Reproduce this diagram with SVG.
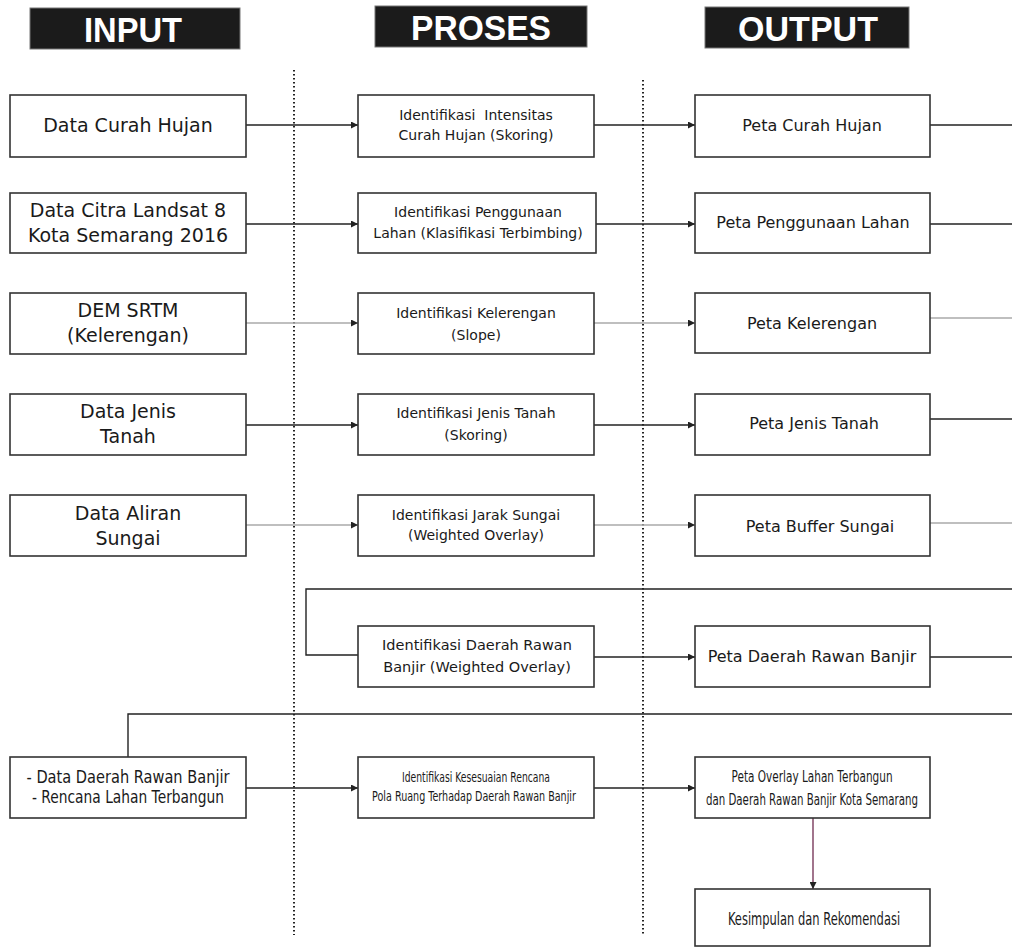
<svg xmlns="http://www.w3.org/2000/svg" width="1012" height="949" viewBox="0 0 1012 949">
<style>
.hdr{fill:#1b1b1b;stroke:#777;stroke-width:1}
.ht{font-family:"Liberation Sans",Arial,sans-serif;font-weight:bold;font-size:35px;fill:#fff;text-anchor:middle}
.box{fill:#fff;stroke:#333;stroke-width:1.6}
.t{font-family:"DejaVu Sans",Verdana,sans-serif;fill:#1a1a1a;text-anchor:middle}
.in{font-size:19px}
.pr{font-size:14px}
.ou{font-size:16px}
.ln{fill:none;stroke:#222;stroke-width:1.4}
.lg{fill:none;stroke:#aaa;stroke-width:1.4}
.dot{fill:none;stroke:#222;stroke-width:2;stroke-dasharray:1.5 2.5}
</style>
<defs>
<marker id="ah" viewBox="0 0 10 10" refX="10" refY="5" markerWidth="9" markerHeight="7" markerUnits="userSpaceOnUse" orient="auto">
<path d="M0,0 L10,5 L0,10 z" fill="#222"/>
</marker>
</defs>
<rect width="1012" height="949" fill="#fff"/>

<g id="headers">
<rect class="hdr" x="30" y="8" width="210" height="41"/>
<text class="ht" x="133" y="42" textLength="98" lengthAdjust="spacingAndGlyphs">INPUT</text>
<rect class="hdr" x="375" y="6" width="212" height="41"/>
<text class="ht" x="481" y="40" textLength="140" lengthAdjust="spacingAndGlyphs">PROSES</text>
<rect class="hdr" x="705" y="7" width="204" height="41"/>
<text class="ht" x="808" y="41" textLength="140" lengthAdjust="spacingAndGlyphs">OUTPUT</text>
</g>

<g id="dividers">
<line class="dot" x1="294" y1="70" x2="294" y2="935"/>
<line class="dot" x1="643" y1="80" x2="643" y2="935"/>
</g>

<g id="connectors">
<line class="ln" x1="246" y1="125" x2="358" y2="125" marker-end="url(#ah)"/>
<line class="ln" x1="594" y1="125" x2="695" y2="125" marker-end="url(#ah)"/>
<line class="ln" x1="930" y1="125" x2="1012" y2="125"/>
<line class="ln" x1="246" y1="224" x2="358" y2="224" marker-end="url(#ah)"/>
<line class="ln" x1="596" y1="224" x2="695" y2="224" marker-end="url(#ah)"/>
<line class="ln" x1="930" y1="224" x2="1012" y2="224"/>
<line class="lg" x1="246" y1="323" x2="358" y2="323" marker-end="url(#ah)"/>
<line class="lg" x1="594" y1="323" x2="695" y2="323" marker-end="url(#ah)"/>
<line class="lg" x1="930" y1="318" x2="1012" y2="318"/>
<line class="ln" x1="246" y1="425" x2="358" y2="425" marker-end="url(#ah)"/>
<line class="ln" x1="594" y1="425" x2="695" y2="425" marker-end="url(#ah)"/>
<line class="ln" x1="930" y1="419" x2="1012" y2="419"/>
<line class="lg" x1="246" y1="525" x2="358" y2="525" marker-end="url(#ah)"/>
<line class="lg" x1="594" y1="525" x2="695" y2="525" marker-end="url(#ah)"/>
<line class="lg" x1="930" y1="523" x2="1012" y2="523"/>
<path class="ln" d="M1012,589 H306 V655 H358"/>
<line class="ln" x1="594" y1="657" x2="695" y2="657" marker-end="url(#ah)"/>
<line class="ln" x1="930" y1="657" x2="1012" y2="657"/>
<path class="ln" d="M1012,714 H128 V757"/>
<line class="ln" x1="246" y1="788" x2="358" y2="788" marker-end="url(#ah)"/>
<line class="ln" x1="594" y1="788" x2="695" y2="788" marker-end="url(#ah)"/>
<line x1="813" y1="818" x2="813" y2="889" stroke="#7a3a5c" stroke-width="1.4" marker-end="url(#ah)"/>
</g>

<g id="in1"><rect class="box" x="10" y="95" width="236" height="62"/>
<text class="t in" x="128" y="132">Data Curah Hujan</text></g>
<g id="in2"><rect class="box" x="10" y="193" width="236" height="60"/>
<text class="t in" x="128" y="217">Data Citra Landsat 8</text>
<text class="t in" x="128" y="242">Kota Semarang 2016</text></g>
<g id="in3"><rect class="box" x="10" y="293" width="236" height="61" stroke="#888"/>
<text class="t in" x="128" y="317">DEM SRTM</text>
<text class="t in" x="128" y="342">(Kelerengan)</text></g>
<g id="in4"><rect class="box" x="10" y="394" width="236" height="61"/>
<text class="t in" x="128" y="418">Data Jenis</text>
<text class="t in" x="128" y="443">Tanah</text></g>
<g id="in5"><rect class="box" x="10" y="495" width="236" height="61"/>
<text class="t in" x="128" y="520">Data Aliran</text>
<text class="t in" x="128" y="545">Sungai</text></g>
<g id="in7"><rect class="box" x="10" y="757" width="236" height="61"/>
<text class="t" font-size="17" x="128" y="783" textLength="203" lengthAdjust="spacingAndGlyphs">- Data Daerah Rawan Banjir</text>
<text class="t" font-size="17" x="128" y="803" textLength="192" lengthAdjust="spacingAndGlyphs">- Rencana Lahan Terbangun</text></g>

<g id="pr1"><rect class="box" x="358" y="95" width="236" height="62"/>
<text class="t pr" x="476" y="120" xml:space="preserve">Identifikasi  Intensitas</text>
<text class="t pr" x="476" y="140">Curah Hujan (Skoring)</text></g>
<g id="pr2"><rect class="box" x="358" y="193" width="238" height="60"/>
<text class="t pr" x="478" y="217">Identifikasi Penggunaan</text>
<text class="t pr" x="478" y="238">Lahan (Klasifikasi Terbimbing)</text></g>
<g id="pr3"><rect class="box" x="358" y="293" width="236" height="61"/>
<text class="t pr" x="476" y="318">Identifikasi Kelerengan</text>
<text class="t pr" x="476" y="340">(Slope)</text></g>
<g id="pr4"><rect class="box" x="358" y="394" width="236" height="61"/>
<text class="t pr" x="476" y="418">Identifikasi Jenis Tanah</text>
<text class="t pr" x="476" y="440">(Skoring)</text></g>
<g id="pr5"><rect class="box" x="358" y="495" width="236" height="61"/>
<text class="t pr" x="476" y="520">Identifikasi Jarak Sungai</text>
<text class="t pr" x="476" y="540">(Weighted Overlay)</text></g>
<g id="pr6"><rect class="box" x="358" y="626" width="236" height="61"/>
<text class="t" font-size="14.5" x="477" y="650">Identifikasi Daerah Rawan</text>
<text class="t" font-size="14.5" x="477" y="672">Banjir (Weighted Overlay)</text></g>
<g id="pr7"><rect class="box" x="358" y="757" width="236" height="61"/>
<text class="t" font-size="14" transform="translate(476,782) scale(0.655,1)" x="0" y="0" textLength="226" lengthAdjust="spacingAndGlyphs">Identifikasi Kesesuaian Rencana</text>
<text class="t" font-size="14" transform="translate(474,801) scale(0.675,1)" x="0" y="0" textLength="302" lengthAdjust="spacingAndGlyphs">Pola Ruang Terhadap Daerah Rawan Banjir</text></g>

<g id="ou1"><rect class="box" x="695" y="95" width="235" height="62"/>
<text class="t ou" x="812" y="131">Peta Curah Hujan</text></g>
<g id="ou2"><rect class="box" x="695" y="193" width="235" height="60"/>
<text class="t ou" x="813" y="228">Peta Penggunaan Lahan</text></g>
<g id="ou3"><rect class="box" x="695" y="293" width="235" height="60"/>
<text class="t ou" x="812" y="329">Peta Kelerengan</text></g>
<g id="ou4"><rect class="box" x="695" y="394" width="235" height="61"/>
<text class="t ou" x="814" y="429">Peta Jenis Tanah</text></g>
<g id="ou5"><rect class="box" x="695" y="495" width="235" height="61"/>
<text class="t ou" x="820" y="532">Peta Buffer Sungai</text></g>
<g id="ou6"><rect class="box" x="695" y="626" width="235" height="61"/>
<text class="t ou" x="812" y="662">Peta Daerah Rawan Banjir</text></g>
<g id="ou7"><rect class="box" x="695" y="757" width="235" height="61"/>
<text class="t" font-size="16" transform="translate(812,782) scale(0.647,1)" x="0" y="0" textLength="249" lengthAdjust="spacingAndGlyphs">Peta Overlay Lahan Terbangun</text>
<text class="t" font-size="16" transform="translate(812,805) scale(0.637,1)" x="0" y="0" textLength="333" lengthAdjust="spacingAndGlyphs">dan Daerah Rawan Banjir Kota Semarang</text></g>
<g id="ou8"><rect class="box" x="695" y="889" width="235" height="57"/>
<text class="t" font-size="17.5" transform="translate(814,925) scale(0.65,1)" x="0" y="0" textLength="265" lengthAdjust="spacingAndGlyphs">Kesimpulan dan Rekomendasi</text></g>
</svg>
